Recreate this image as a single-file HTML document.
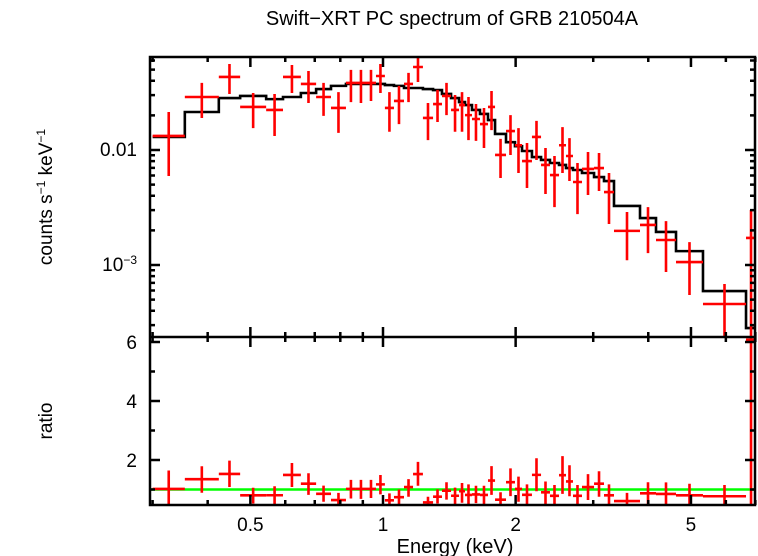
<!DOCTYPE html>
<html><head><meta charset="utf-8"><style>
html,body{margin:0;padding:0;background:#fff;}
svg{display:block;font-family:"Liberation Sans",sans-serif;}
</style></head><body>
<svg id="chart" width="758" height="556" viewBox="0 0 758 556" xmlns="http://www.w3.org/2000/svg">
<defs>
<clipPath id="ctop"><rect x="150" y="57" width="605" height="280"/></clipPath>
<clipPath id="cbot"><rect x="150" y="337" width="605" height="168"/></clipPath>
</defs>
<text x="452" y="25" font-size="20" text-anchor="middle">Swift−XRT PC spectrum of GRB 210504A</text>
<text transform="translate(52,197) rotate(-90)" font-size="19" text-anchor="middle">counts s<tspan font-size="12" dy="-7">−1</tspan><tspan dy="7"> keV</tspan><tspan font-size="12" dy="-7">−1</tspan></text>
<text transform="translate(52,421) rotate(-90)" font-size="19" text-anchor="middle">ratio</text>
<text x="455" y="553" font-size="20" text-anchor="middle">Energy (keV)</text>
<g id="marks"></g>
</svg>
<script>
const binLo=[0.30,0.355,0.424,0.474,0.543,0.593,0.651,0.705,0.762,0.824,0.868,0.915,0.964,1.010,1.059,1.116,1.170,1.232,1.299,1.361,1.427,1.488,1.535,1.592,1.660,1.731,1.796,1.902,1.993,2.068,2.178,2.284,2.393,2.509,2.602,2.699,2.829,3.013,3.174,3.344,3.831,4.165,4.624,5.324,6.667];
const binHi=[0.355,0.424,0.474,0.543,0.593,0.651,0.705,0.762,0.824,0.868,0.915,0.964,1.010,1.059,1.116,1.170,1.232,1.299,1.361,1.427,1.488,1.535,1.592,1.660,1.731,1.796,1.902,1.993,2.068,2.178,2.284,2.393,2.509,2.602,2.699,2.829,3.013,3.174,3.344,3.831,4.165,4.624,5.324,6.667,7.025];
const flux=[0.01324,0.0289,0.0432,0.0237,0.0223,0.0432,0.0375,0.0289,0.0232,0.0383,0.0383,0.0383,0.0440,0.0232,0.0267,0.0375,0.0527,0.0190,0.0251,0.0295,0.0223,0.0246,0.0201,0.0186,0.0168,0.0237,0.00905,0.0146,0.0110,0.00802,0.0130,0.00741,0.00606,0.0110,0.00887,0.00527,0.00684,0.00697,0.00431,0.00198,0.00223,0.00165,0.00106,0.000458,0.00172];
const fluxLo=[0.00594,0.0190,0.0307,0.0155,0.01324,0.0313,0.0256,0.0198,0.0141,0.0261,0.0256,0.0267,0.0313,0.0144,0.0168,0.0261,0.0390,0.0122,0.0175,0.0201,0.0144,0.0144,0.0122,0.0120,0.0104,0.0149,0.00571,0.00905,0.00631,0.00467,0.00819,0.00414,0.00319,0.00631,0.00537,0.00277,0.00406,0.00440,0.00227,0.00110,0.00127,0.000869,0.000548,0.0001,0.0001];
const fluxHi=[0.0214,0.0383,0.0560,0.0313,0.0307,0.0548,0.0486,0.0383,0.0319,0.0497,0.0497,0.0497,0.0560,0.0319,0.0361,0.0468,0.0670,0.0256,0.0333,0.0383,0.0301,0.0319,0.0289,0.0251,0.0232,0.0326,0.0125,0.0201,0.0155,0.0115,0.0179,0.0104,0.00887,0.0158,0.0127,0.00771,0.00961,0.00942,0.00631,0.00289,0.00319,0.00241,0.00158,0.000684,0.00301];
const model=[0.0130,0.0214,0.0283,0.0295,0.0277,0.0289,0.0313,0.0339,0.0361,0.0375,0.0375,0.0375,0.0375,0.0367,0.0361,0.0346,0.0346,0.0339,0.0332,0.0307,0.0283,0.0261,0.0246,0.0223,0.0206,0.0182,0.0138,0.0117,0.0108,0.00980,0.00869,0.00819,0.00771,0.00741,0.00697,0.00670,0.00631,0.00582,0.00537,0.00326,0.00256,0.00194,0.00132,0.000594,0.000283];
const xMajor=[0.5,1,2,5];
const xMinor=[0.3,0.4,0.6,0.7,0.8,0.9,3,4,6,7];
const ratioTicks=[2,4,6];
const ratioMinor=[1,3,5];

const X=e=>383+440.6*Math.log10(e);
const YT=f=>150-115*(Math.log10(f)+2);
const YB=r=>519-29.5*r;
const NS="http://www.w3.org/2000/svg";
const g=document.getElementById('marks');
function mk(tag,attrs,parent){const el=document.createElementNS(NS,tag);for(const k in attrs)el.setAttribute(k,attrs[k]);(parent||g).appendChild(el);return el;}

const topG=mk('g',{'clip-path':'url(#ctop)'});


const botG=mk('g',{'clip-path':'url(#cbot)'});



let d='';
for(let i=0;i<model.length;i++){const y=YT(model[i]);d+=(i?'L':'M')+X(binLo[i])+','+y+'L'+X(binHi[i])+','+y;}
const mp=mk('path',{d:d,fill:'none',stroke:'#000','stroke-width':2.6},topG);



const rl=mk('line',{x1:150,x2:755,y1:YB(1),y2:YB(1),stroke:'#00ff00','stroke-width':2.6},botG);



for(let i=0;i<flux.length;i++){
  const xc=X(Math.sqrt(binLo[i]*binHi[i]));
  const x1=X(binLo[i]),x2=X(binHi[i]);
  const p=mk('path',{d:`M${x1},${YT(flux[i])}L${x2},${YT(flux[i])}M${xc},${YT(fluxLo[i])}L${xc},${YT(fluxHi[i])}`,stroke:'#ff0000','stroke-width':2.6,fill:'none'},topG);
  
  
  const r=flux[i]/model[i],rlo=fluxLo[i]/model[i],rhi=fluxHi[i]/model[i];
  const q=mk('path',{d:`M${x1},${YB(r)}L${x2},${YB(r)}M${xc},${YB(rlo)}L${xc},${YB(rhi)}`,stroke:'#ff0000','stroke-width':2.6,fill:'none'},botG);
  
  
}

const fr=mk('path',{d:'M150,57H755V505H150ZM150,337H755',fill:'none',stroke:'#000','stroke-width':2.5});



let td='';
xMajor.forEach(e=>{const x=X(e);td+=`M${x},57v10M${x},337v-10M${x},337v10M${x},505v-10`;});
xMinor.forEach(e=>{const x=X(e);td+=`M${x},57v5M${x},337v-5M${x},337v5M${x},505v-5`;});
for(let dec=-4;dec<=-1;dec++){for(let m=1;m<=9;m++){const f=m*Math.pow(10,dec);const y=YT(f);if(y<57||y>337)continue;const L=m===1?10:5;td+=`M150,${y}h${L}M755,${y}h${-L}`;}}
ratioTicks.forEach(r=>{const y=YB(r);td+=`M150,${y}h10M755,${y}h-10`;});
ratioMinor.forEach(r=>{const y=YB(r);td+=`M150,${y}h5M755,${y}h-5`;});
const tk=mk('path',{d:td,stroke:'#000','stroke-width':2.5,fill:'none'});



xMajor.forEach(e=>{const t=mk('text',{x:X(e),y:531,'font-size':19,'text-anchor':'middle'});t.textContent=String(e);

});
ratioTicks.forEach(r=>{const t=mk('text',{x:137,y:YB(r)+7,'font-size':19,'text-anchor':'end'});t.textContent=String(r);

});
const t1=mk('text',{x:137,y:YT(0.01)+6,'font-size':19,'text-anchor':'end'});t1.textContent='0.01';


const t2=mk('text',{x:137,y:YT(0.001)+6,'font-size':19,'text-anchor':'end'});
t2.innerHTML='10<tspan font-size="12" dy="-7">−3</tspan>';


</script>
</body></html>
